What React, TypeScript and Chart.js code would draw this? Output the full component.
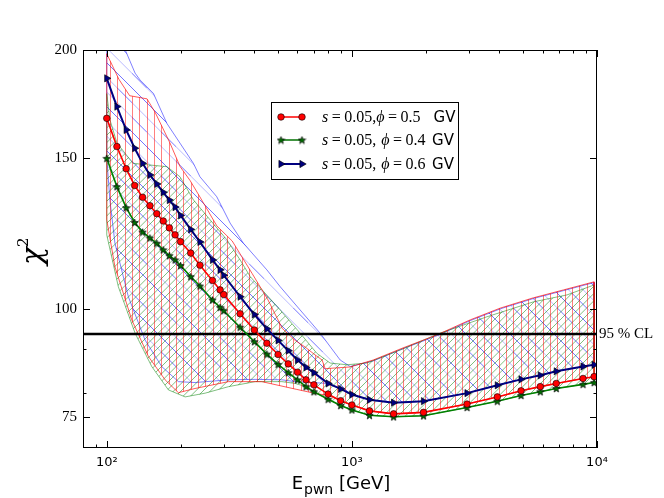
import React, { useEffect, useRef } from 'react';
import { Chart, registerables } from 'chart.js';

Chart.register(...registerables);

// ---------------- data ----------------
const energy = [100, 110, 120, 130, 140, 150, 160, 170, 180, 190, 200, 220, 240, 270, 290, 300, 350, 400, 450, 500, 550, 600, 650, 700, 800, 900, 1000, 1180, 1480, 1960, 2950, 3920, 4900, 5870, 6820, 8770, 9730];
const chiPhi05 = [166.6, 154.5, 145.6, 139.2, 134.9, 131.9, 129.1, 126.6, 124.3, 122.0, 119.8, 116.2, 112.5, 108.0, 105.3, 104.0, 98.8, 94.6, 91.3, 88.6, 86.4, 84.5, 82.8, 81.7, 79.7, 78.3, 77.4, 76.2, 75.6, 75.9, 77.6, 79.1, 80.4, 81.3, 82.0, 83.1, 83.5];
const chiPhi04 = [149.7, 138.8, 131.2, 126.1, 122.9, 121.0, 119.3, 117.2, 115.4, 114.1, 112.4, 109.1, 106.4, 102.5, 100.5, 99.6, 95.3, 91.7, 88.7, 86.3, 84.4, 82.8, 81.3, 80.2, 78.6, 77.3, 76.4, 75.3, 75.0, 75.2, 76.9, 78.2, 79.4, 80.2, 80.9, 81.8, 82.2];
const chiPhi06 = [185.4, 171.9, 161.5, 153.8, 147.7, 143.2, 139.8, 136.7, 133.9, 131.4, 128.5, 123.8, 119.7, 114.1, 111.1, 109.5, 103.4, 98.6, 94.9, 92.0, 89.5, 87.3, 85.6, 84.4, 82.0, 80.8, 79.6, 78.5, 77.9, 78.2, 79.9, 81.6, 82.9, 83.8, 84.7, 85.8, 86.2];
const seriesLabels = ['s=0.05,ϕ=0.5  GV', 's=0.05, ϕ=0.4 GV', 's=0.05, ϕ=0.6 GV'];

const clLevel = 93.6;
const clLabel = '95 % CL';

// bands: [energy, chi2]
const redBandUpper = [[100, 198], [112, 185], [124, 177], [146, 175.5], [158, 169], [181, 156], [199, 146.5], [219, 141], [240, 135], [281, 125], [325, 120], [392, 110], [455, 102.5], [520, 95], [587, 92], [644, 90.4], [708, 88.5], [756, 87.3], [778, 85.3], [984, 85.7], [1222, 87.3], [1620, 90.2], [2230, 93.4], [3040, 97.2], [4030, 100.3], [5500, 103.1], [7300, 105.3], [9730, 107.6]];
const redBandLower = [[100, 127], [108, 112], [126.5, 97.2], [148, 88.1], [173, 82.8], [196, 80.0], [229, 80.9], [314, 82.4], [429, 82.4], [596, 80.7], [700, 79.9], [800, 79.4], [900, 78.3], [1000, 77.4], [1180, 76.2], [1480, 75.6], [1960, 75.9], [2950, 77.6], [3920, 79.1], [4900, 80.4], [5870, 81.3], [6820, 82.0], [8770, 83.1], [9730, 83.5]];
const greenBandUpper = [[100, 178], [103, 166], [110, 156], [128, 147.7], [176, 146.4], [199, 142.5], [226, 133.9], [264, 127], [309, 120.4], [350, 114.1], [385, 109.1], [510, 99.8], [615, 93.8], [719, 88.9], [815, 86.6], [955, 86.2], [1151, 86.6], [1575, 89.7], [2293, 93.8], [3556, 98.0], [5510, 102.0], [7545, 103.9], [9730, 106.7]];
const greenBandLower = [[100, 122], [111.5, 106.2], [130.5, 93.8], [152.6, 85.8], [178.4, 80.6], [208.8, 79.1], [252, 79.9], [314, 81.3], [403, 82.4], [518, 82.4], [587, 82.0], [650, 81.3], [700, 80.2], [800, 78.6], [900, 77.3], [1000, 76.4], [1180, 75.3], [1480, 75.0], [1960, 75.2], [2950, 76.9], [3920, 78.2], [4900, 79.4], [5870, 80.2], [6820, 80.9], [8770, 81.8], [9730, 82.2]];
const blueBandUpper = [[100, 225], [119, 200], [130.5, 188], [136.7, 184.6], [155, 178.1], [175.8, 164.4], [199, 155.9], [225.7, 147.7], [240, 142.5], [281, 135.1], [318.6, 125.9], [361, 119.3], [450, 111.1], [510, 106.2], [615, 99.8], [742, 93.8], [896, 87.3], [984, 85.8], [1222, 87.1], [1620, 90.0], [2230, 93.2], [3040, 97.0], [4030, 100.1], [5500, 102.9], [7300, 105.1], [9730, 107.4]];
const blueBandLower = [[100, 150], [103, 133.9], [108, 119.3], [122.5, 103.4], [143.3, 92.1], [167.6, 85.8], [196, 82.4], [229, 82.2], [314, 82.8], [403, 82.9], [518, 82.8], [587, 82.4], [800, 82.0], [900, 80.8], [1000, 79.6], [1180, 78.5], [1480, 77.9], [1960, 78.2], [2950, 79.9], [3920, 81.6], [4900, 82.9], [5870, 83.8], [6820, 84.7], [8770, 85.8], [9730, 86.2]];

const xMajorTicks = [100, 1000, 10000];
const xTickLabels = ['10²', '10³', '10⁴'];
const xMinorTicks = [90, 200, 300, 400, 500, 600, 700, 800, 900, 2000, 3000, 4000, 5000, 6000, 7000, 8000, 9000];
const yMajorTicks = [75, 100, 150, 200];
const yTickLabels = ['75', '100', '150', '200'];
const yMinorTicks = [80, 90];

// ---------------- helpers ----------------
function toPts(xs: number[], ys: number[]) {
  return xs.map((x, i) => ({ x, y: ys[i] }));
}
function pairPts(arr: number[][]) {
  return arr.map(([x, y]) => ({ x, y }));
}
function upperWithEdges(up: number[][], lo: number[][]) {
  const f = lo[0];
  const l = lo[lo.length - 1];
  return [{ x: f[0], y: f[1] }, ...pairPts(up), { x: l[0], y: l[1] }];
}

function makeStar(size: number, fill: string) {
  const c = document.createElement('canvas');
  c.width = size;
  c.height = size;
  const g = c.getContext('2d')!;
  const cx = size / 2, cy = size / 2 + 0.4, R = size / 2 - 0.6, r = R * 0.42;
  g.beginPath();
  for (let i = 0; i < 10; i++) {
    const a = -Math.PI / 2 + (i * Math.PI) / 5;
    const rad = i % 2 === 0 ? R : r;
    g.lineTo(cx + rad * Math.cos(a), cy + rad * Math.sin(a));
  }
  g.closePath();
  g.fillStyle = fill;
  g.fill();
  g.strokeStyle = '#000';
  g.lineWidth = 0.7;
  g.stroke();
  return c;
}

function makePattern(ctx: CanvasRenderingContext2D, kind: string) {
  const t = document.createElement('canvas');
  const g = t.getContext('2d')!;
  if (kind === 'vert') {
    t.width = 22; t.height = 4;
    g.fillStyle = 'rgba(255,0,0,0.5)';
    [0, 7, 15].forEach((x) => g.fillRect(x, 0, 1, 4));
  } else if (kind === 'ne') {
    t.width = 22; t.height = 22;
    g.lineWidth = 1;
    for (let k = -3; k <= 7; k++) {
      const c = (k * 22) / 3;
      g.strokeStyle = 'rgba(0,128,0,0.5)';
      g.beginPath();
      g.moveTo(c + 6, -6);
      g.lineTo(-6, c + 6);
      g.stroke();
    }
  } else {
    t.width = 44; t.height = 44;
    g.lineWidth = 1;
    for (let k = -6; k <= 6; k++) {
      const c = (k * 44) / 3;
      g.strokeStyle = Math.abs(k) % 2 === 0 ? 'rgba(0,0,255,0.55)' : 'rgba(0,0,255,0.28)';
      g.beginPath();
      g.moveTo(-6, c - 6);
      g.lineTo(50, c + 50);
      g.stroke();
    }
  }
  return ctx.createPattern(t, 'repeat')!;
}

const SERIF = '"Liberation Serif", "DejaVu Serif", serif';
const SANS = '"DejaVu Sans", sans-serif';

function drawMath(ctx: CanvasRenderingContext2D, str: string, x: number, y: number) {
  for (const ch of str) {
    if (ch === ' ') { x += 5; continue; }
    ctx.font = (ch === 's' || ch === 'ϕ' ? 'italic ' : '') + '16px ' + SERIF;
    if (ch === '=') x += 3.5;
    ctx.fillText(ch, x, y);
    x += ctx.measureText(ch).width;
    if (ch === '=') x += 3.5;
  }
  return x;
}

export default function App() {
  const ref = useRef<HTMLCanvasElement | null>(null);

  useEffect(() => {
    document.body.style.margin = '0';
    const canvas = ref.current!;
    const ctx = canvas.getContext('2d')!;
    const star = makeStar(9, '#007000');
    const patRed = makePattern(ctx, 'vert');
    const patGreen = makePattern(ctx, 'ne');
    const patBlue = makePattern(ctx, 'nw');

    const markerStyles = [
      { color: '#ff0000', kind: 'circle' },
      { color: '#007000', kind: 'star' },
      { color: '#000080', kind: 'tri' },
    ];

    const overlay = {
      id: 'overlay',
      afterDatasetsDraw(chart: any) {
        const { ctx: c, chartArea: a, scales } = chart;
        const xs = scales.x, ys = scales.y;
        c.save();
        c.strokeStyle = '#000';
        c.lineWidth = 1;
        c.strokeRect(a.left + 0.5, a.top + 0.5, a.right - a.left - 1, a.bottom - a.top - 1);
        const vt = (v: number, len: number) => {
          const p = Math.round(xs.getPixelForValue(v)) + 0.5;
          c.beginPath();
          c.moveTo(p, a.bottom); c.lineTo(p, a.bottom - len);
          c.moveTo(p, a.top); c.lineTo(p, a.top + len);
          c.stroke();
        };
        const ht = (v: number, len: number) => {
          const p = Math.round(ys.getPixelForValue(v)) + 0.5;
          c.beginPath();
          c.moveTo(a.left, p); c.lineTo(a.left + len, p);
          c.moveTo(a.right, p); c.lineTo(a.right - len, p);
          c.stroke();
        };
        xMajorTicks.forEach((v) => vt(v, 7));
        xMinorTicks.forEach((v) => vt(v, 3.5));
        yMajorTicks.forEach((v) => ht(v, 7));
        yMinorTicks.forEach((v) => ht(v, 3.5));
        c.restore();
      },
      afterDraw(chart: any) {
        const { ctx: c, chartArea: a, scales } = chart;
        const ys = scales.y;
        c.save();
        c.fillStyle = '#000';
        // CL label
        c.font = '15px ' + SERIF;
        c.textBaseline = 'middle';
        c.textAlign = 'left';
        c.fillText(clLabel, a.right + 2, ys.getPixelForValue(clLevel));
        // x title
        c.textBaseline = 'alphabetic';
        c.font = '18px ' + SANS;
        const wE = c.measureText('E').width;
        const wRest = c.measureText(' [GeV]').width;
        c.font = '14px ' + SANS;
        const wSub = c.measureText('pwn').width;
        const total = wE + 1 + wSub + wRest;
        const x0 = (a.left + a.right) / 2 + 1 - total / 2;
        c.font = '18px ' + SANS;
        c.fillText('E', x0, 489);
        c.font = '14px ' + SANS;
        c.fillText('pwn', x0 + wE + 1, 494);
        c.font = '18px ' + SANS;
        c.fillText(' [GeV]', x0 + wE + 1 + wSub, 489);
        // y title
        c.save();
        c.translate(42, 250);
        c.rotate(-Math.PI / 2);
        c.font = 'italic 30px "DejaVu Serif", serif';
        c.fillText('χ', -15, 0);
        c.font = '15px "DejaVu Serif", serif';
        c.fillText('2', 3, -14);
        c.restore();
        // legend
        const bx = 271, by = 102, bw = 187, bh = 77;
        c.fillStyle = '#fff';
        c.fillRect(bx, by, bw, bh);
        c.strokeStyle = '#000';
        c.lineWidth = 1;
        c.strokeRect(bx + 0.5, by + 0.5, bw, bh);
        const rows = [117, 140, 164];
        seriesLabels.forEach((lab, i) => {
          const y = rows[i];
          const st = markerStyles[i];
          c.strokeStyle = st.color;
          c.lineWidth = i === 2 ? 2 : 1.5;
          c.beginPath();
          c.moveTo(281, y); c.lineTo(302, y);
          c.stroke();
          [281, 302].forEach((mx) => {
            if (st.kind === 'circle') {
              c.beginPath();
              c.arc(mx, y, 3.3, 0, Math.PI * 2);
              c.fillStyle = st.color; c.fill();
              c.strokeStyle = '#000'; c.lineWidth = 0.6; c.stroke();
            } else if (st.kind === 'star') {
              c.drawImage(star, mx - 4.5, y - 4.5);
            } else {
              const r = 4.2;
              c.beginPath();
              c.moveTo(mx + r, y);
              c.lineTo(mx - r / 2, y - r * 0.866);
              c.lineTo(mx - r / 2, y + r * 0.866);
              c.closePath();
              c.fillStyle = st.color; c.fill();
              c.strokeStyle = '#000'; c.lineWidth = 0.6; c.stroke();
            }
          });
          c.fillStyle = '#000';
          c.textBaseline = 'alphabetic';
          const gi = lab.lastIndexOf('GV');
          const math = lab.slice(0, gi);
          const trimmed = math.trimEnd();
          const nsp = math.length - trimmed.length;
          let tx = drawMath(c, trimmed, 322, y + 5);
          tx += nsp * 6.5;
          c.font = '15px ' + SANS;
          c.fillText('GV', tx, y + 5);
        });
        c.restore();
      },
    };

    const bandLine = (data: any[], color: string, order: number, fill: any, bg: any) => ({
      data,
      borderColor: color,
      borderWidth: 1,
      pointRadius: 0,
      fill,
      backgroundColor: bg,
      order,
      tension: 0,
    });

    const chart = new Chart(canvas, {
      type: 'line',
      data: {
        datasets: [
          {
            data: toPts(energy, chiPhi05),
            borderColor: '#ff0000',
            borderWidth: 1.6,
            pointStyle: 'circle',
            pointRadius: 3.3,
            pointBackgroundColor: '#ff0000',
            pointBorderColor: '#000',
            pointBorderWidth: 0.6,
            fill: false,
            order: 0,
          },
          {
            data: toPts(energy, chiPhi04),
            borderColor: '#008000',
            borderWidth: 1.6,
            pointStyle: star as any,
            pointRadius: 4,
            fill: false,
            order: 1,
          },
          {
            data: toPts(energy, chiPhi06),
            borderColor: '#000080',
            borderWidth: 2,
            pointStyle: 'triangle',
            pointRotation: 90,
            pointRadius: 4.2,
            pointBackgroundColor: '#000080',
            pointBorderColor: '#000',
            pointBorderWidth: 0.6,
            fill: false,
            order: 2,
          },
          {
            data: [{ x: 80, y: clLevel }, { x: 10000, y: clLevel }],
            borderColor: '#000',
            borderWidth: 2.6,
            pointRadius: 0,
            fill: false,
            order: 3,
          },
          bandLine(upperWithEdges(redBandUpper, redBandLower), 'rgba(255,0,0,0.65)', 10, 5, patRed),
          bandLine(pairPts(redBandLower), 'rgba(255,0,0,0.65)', 11, false, 'transparent'),
          bandLine(upperWithEdges(greenBandUpper, greenBandLower), 'rgba(0,128,0,0.5)', 12, 7, patGreen),
          bandLine(pairPts(greenBandLower), 'rgba(0,128,0,0.5)', 13, false, 'transparent'),
          bandLine(upperWithEdges(blueBandUpper, blueBandLower), 'rgba(0,0,255,0.5)', 14, 9, patBlue),
          bandLine(pairPts(blueBandLower), 'rgba(0,0,255,0.5)', 15, false, 'transparent'),
        ] as any,
      },
      options: {
        animation: false,
        responsive: false,
        events: [],
        layout: { padding: { top: 50, right: 67, left: 0, bottom: 0 } },
        plugins: {
          legend: { display: false },
          tooltip: { enabled: false },
        },
        scales: {
          x: {
            type: 'logarithmic',
            min: 80,
            max: 10000,
            grid: { display: false, drawTicks: false },
            border: { display: false },
            ticks: {
              autoSkip: false,
              maxRotation: 0,
              padding: 7,
              color: '#000',
              font: { family: 'DejaVu Sans', size: 13 },
              callback: (v: any) => {
                const i = xMajorTicks.indexOf(Number(v));
                return i >= 0 ? xTickLabels[i] : '';
              },
            },
            afterBuildTicks: (s: any) => {
              s.ticks = xMajorTicks.map((v) => ({ value: v }));
            },
            afterFit: (s: any) => {
              s.height = 50;
            },
          },
          y: {
            type: 'logarithmic',
            min: 69,
            max: 200,
            grid: { display: false, drawTicks: false },
            border: { display: false },
            ticks: {
              autoSkip: false,
              padding: 6,
              color: '#000',
              font: { family: 'Liberation Serif', size: 15 },
              callback: (v: any) => {
                const i = yMajorTicks.indexOf(Number(v));
                return i >= 0 ? yTickLabels[i] : '';
              },
            },
            afterBuildTicks: (s: any) => {
              s.ticks = yMajorTicks.map((v) => ({ value: v }));
            },
            afterFit: (s: any) => {
              s.width = 83;
            },
          },
        },
      } as any,
      plugins: [overlay],
    });

    return () => chart.destroy();
  }, []);

  return (
    <div style={{ width: 664, height: 498, background: '#fff' }}>
      <canvas ref={ref} width={664} height={498} style={{ display: 'block' }} />
    </div>
  );
}
